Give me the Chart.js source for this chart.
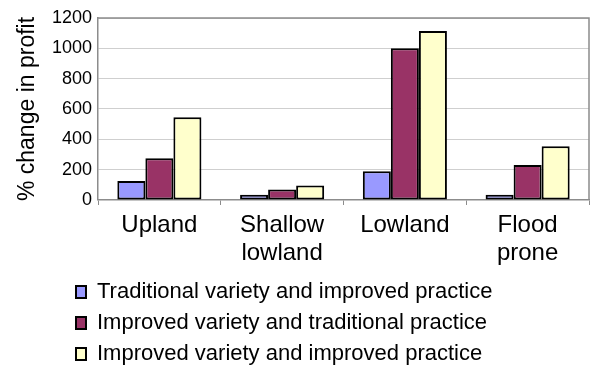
<!DOCTYPE html>
<html>
<head>
<meta charset="utf-8">
<script src="https://cdn.jsdelivr.net/npm/chart.js@4"></script>
<style>
  html, body { margin: 0; padding: 0; background: #fff; }
  #wrap { width: 591px; height: 366px; }
</style>
</head>
<body>
<div id="wrap"><canvas id="chart" width="591" height="366"></canvas></div>
<script>
// Rice ecosystems and the profit change of each technology package
const categories = ['Upland', ['Shallow', 'lowland'], 'Lowland', ['Flood', 'prone']];
const seriesNames = [
  'Traditional variety and improved practice',
  'Improved variety and traditional practice',
  'Improved variety and improved practice'
];
const tradVarImpPractice = [125, 35, 190, 35];
const impVarTradPractice = [275, 70, 1000, 230];
const impVarImpPractice = [545, 95, 1115, 355];
const yTicks = [0, 200, 400, 600, 800, 1000, 1200];

const FONT = '"Liberation Sans", Arial, sans-serif';

// Grey frame on the top and right sides of the plot area
const plotFrame = {
  id: 'plotFrame',
  afterDraw(chart) {
    const { ctx, chartArea: a } = chart;
    ctx.save();
    ctx.strokeStyle = '#8c8c8c';
    ctx.lineWidth = 1.5;
    ctx.beginPath();
    ctx.moveTo(a.left, a.top);
    ctx.lineTo(a.right, a.top);
    ctx.lineTo(a.right, a.bottom);
    ctx.stroke();
    ctx.restore();
  }
};

// Legend block sits under the plot, left-aligned near the axis
const legendPlacement = {
  id: 'legendPlacement',
  afterLayout(chart) {
    const lg = chart.legend;
    lg.left = 67;
    lg.top = lg.top - 1;
    lg.bottom = 366;
  }
};

const barStyle = { borderColor: '#000', borderWidth: 2, borderSkipped: false };

new Chart(document.getElementById('chart'), {
  type: 'bar',
  data: {
    labels: categories,
    datasets: [
      { label: seriesNames[0], data: tradVarImpPractice, backgroundColor: '#9999FF', ...barStyle },
      { label: seriesNames[1], data: impVarTradPractice, backgroundColor: '#993366', ...barStyle },
      { label: seriesNames[2], data: impVarImpPractice, backgroundColor: '#FFFFCC', ...barStyle }
    ]
  },
  options: {
    responsive: false,
    animation: false,
    devicePixelRatio: 1,
    layout: { padding: { top: 18, right: 2, bottom: 0, left: 0 } },
    datasets: { bar: { barPercentage: 1, categoryPercentage: 0.685 } },
    scales: {
      x: {
        grid: { offset: true, drawOnChartArea: false, drawTicks: true, tickLength: 5, color: '#8c8c8c', lineWidth: 1 },
        border: { color: '#8c8c8c', width: 1.5 },
        ticks: { color: '#000', padding: 6, maxRotation: 0, autoSkip: false,
                 font: { family: FONT, size: 24, lineHeight: 1.1667 } }
      },
      y: {
        min: 0, max: 1200,
        afterBuildTicks(scale) { scale.ticks = yTicks.map(v => ({ value: v })); },
        afterFit(scale) { scale.width = 98; },
        grid: { drawTicks: false, color: '#cfcfcf', lineWidth: 1 },
        border: { color: '#8c8c8c', width: 1.5 },
        ticks: { color: '#000', padding: 6, font: { family: FONT, size: 18 },
                 callback: v => String(v) },
        title: { display: true, text: '% change in profit', color: '#000',
                 padding: { top: 14, bottom: 0 }, font: { family: FONT, size: 23 } }
      }
    },
    plugins: {
      tooltip: { enabled: false },
      legend: {
        position: 'bottom',
        align: 'start',
        maxHeight: 93,
        labels: { color: '#000', boxWidth: 10, boxHeight: 12, padding: 9,
                  font: { family: FONT, size: 22 } }
      }
    }
  },
  plugins: [plotFrame, legendPlacement]
});
</script>
</body>
</html>
